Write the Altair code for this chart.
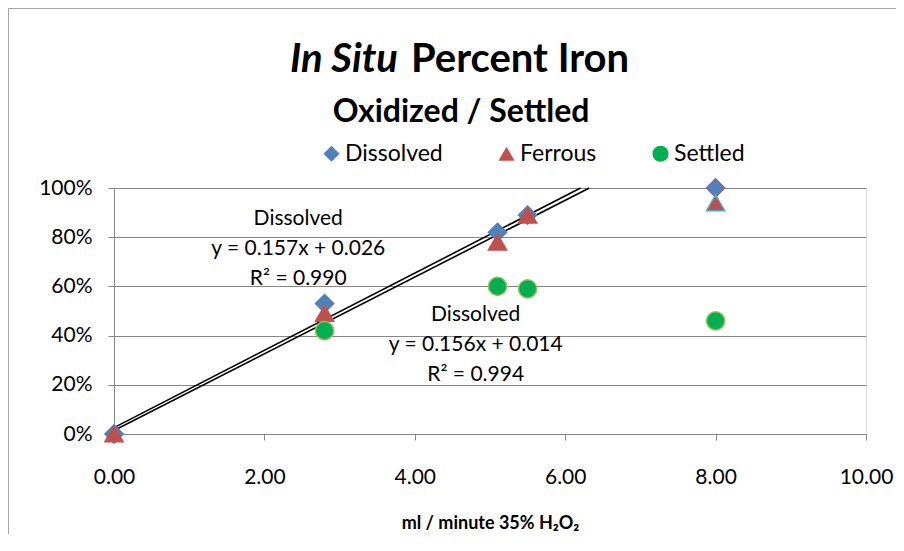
import altair as alt
import pandas as pd

# ---- data ----
flow = [0.0, 2.8, 5.1, 5.5, 8.0]
dissolved = [0.00, 0.53, 0.82, 0.89, 1.00]
ferrous_x = [0.0, 2.8, 5.1, 5.5, 8.0]
ferrous = [0.00, 0.49, 0.78, 0.89, 0.94]
settled_x = [2.8, 5.1, 5.5, 8.0]
settled = [0.42, 0.60, 0.59, 0.46]

series_names = ["Dissolved", "Ferrous", "Settled"]
fills = ["#4F81BD", "#C0504D", "#00B050"]
shapes = ["diamond", "triangle-up", "circle"]

# trendlines (slope, intercept) as labelled
trend_slopes = [0.157, 0.156]
trend_intercepts = [0.026, 0.014]
trend_labels = [
    ["Dissolved", "y = 0.157x + 0.026", "R² = 0.990"],
    ["Dissolved", "y = 0.156x + 0.014", "R² = 0.994"],
]
label_anchor_x = [2.45, 4.81]
label_anchor_y = [0.874, 0.484]

FONT = "Lato"

rows = []
for x, y in zip(flow, dissolved):
    rows.append({"x": x, "y": y, "series": "Dissolved", "edge": "#4F81BD"})
for x, y in zip(ferrous_x, ferrous):
    rows.append({"x": x, "y": y, "series": "Ferrous", "edge": "#C0504D"})
for x, y in zip(settled_x, settled):
    rows.append({"x": x, "y": y, "series": "Settled", "edge": "#9BBB59"})
pts = pd.DataFrame(rows)
pts.loc[(pts.series == "Dissolved") & (pts.x == 8.0), "edge"] = "#8064A2"
pts.loc[(pts.series == "Ferrous") & (pts.x == 8.0), "edge"] = "#4BACC6"
pts["order"] = range(len(pts))

line_rows = []
for i, (m, b) in enumerate(zip(trend_slopes, trend_intercepts)):
    x_end = (1.0 - b) / m
    line_rows.append({"x": 0.0, "y": b, "line": i})
    line_rows.append({"x": x_end, "y": 1.0, "line": i})
lines_df = pd.DataFrame(line_rows)

lab_rows = []
for i, lines in enumerate(trend_labels):
    lab_rows.append({"x": label_anchor_x[i], "y": label_anchor_y[i], "t": lines})
lab_df = pd.DataFrame(lab_rows)

xs = alt.Scale(domain=[0, 10], nice=False)
ys = alt.Scale(domain=[0, 1], nice=False)

x_axis = alt.Axis(
    values=[0, 2, 4, 6, 8, 10], format=".2f", grid=False, labelFlush=False,
    title="ml / minute 35% H₂O₂", titleFont=FONT, titleFontSize=18, titleFontWeight="bold",
    titleColor="black", titlePadding=27,
    labelFont=FONT, labelFontSize=21, labelColor="black", labelPadding=26,
    tickSize=6, tickColor="#868686", domainColor="#868686",
)
y_axis = alt.Axis(
    values=[0, 0.2, 0.4, 0.6, 0.8, 1.0], format=".0%", grid=True, gridColor="#868686",
    title=None, labelFont=FONT, labelFontSize=21, labelColor="black", labelPadding=16,
    tickSize=6, tickColor="#868686", domainColor="#868686",
)

leg = alt.Legend(title=None, orient="none", legendX=206, legendY=-46, padding=0,
                 direction="horizontal", labelFont=FONT, labelFontSize=23,
                 labelColor="black", symbolSize=260, columnPadding=52,
                 symbolStrokeWidth=0, labelOffset=2)

border = alt.Chart(pd.DataFrame({"a": [0]})).mark_rect(
    fillOpacity=0, stroke="#a6a6a6", strokeWidth=1
).encode(x=alt.value(-105.5), x2=alt.value(800), y=alt.value(-179.5), y2=alt.value(420))

points = alt.Chart(pts).mark_point(filled=True, size=330, opacity=1, strokeWidth=1.5).encode(
    x=alt.X("x:Q", scale=xs, axis=x_axis),
    y=alt.Y("y:Q", scale=ys, axis=y_axis),
    fill=alt.Fill("series:N", scale=alt.Scale(domain=series_names, range=fills), legend=leg),
    shape=alt.Shape("series:N", scale=alt.Scale(domain=series_names, range=shapes), legend=leg),
    stroke=alt.Stroke("edge:N", scale=None),
    order="order:Q",
)

trend = alt.Chart(lines_df).mark_line(color="black", strokeWidth=1.6).encode(
    x=alt.X("x:Q", scale=xs), y=alt.Y("y:Q", scale=ys), detail="line:N"
)

labels = alt.Chart(lab_df).mark_text(
    font=FONT, fontSize=21, color="black", align="center", baseline="middle", lineHeight=30
).encode(x=alt.X("x:Q", scale=xs), y=alt.Y("y:Q", scale=ys), text="t")

title_a = alt.Chart(pd.DataFrame({"t": ["In Situ"]})).mark_text(
    font=FONT, fontSize=40, fontWeight="bold", fontStyle="italic", align="right",
    baseline="alphabetic"
).encode(x=alt.value(284), y=alt.value(-116), text="t:N")
title_b = alt.Chart(pd.DataFrame({"t": ["Percent Iron"]})).mark_text(
    font=FONT, fontSize=40, fontWeight="bold", align="left", baseline="alphabetic"
).encode(x=alt.value(297), y=alt.value(-116), text="t:N")
subtitle = alt.Chart(pd.DataFrame({"t": ["Oxidized / Settled"]})).mark_text(
    font=FONT, fontSize=32, fontWeight="bold", align="center", baseline="alphabetic"
).encode(x=alt.value(347), y=alt.value(-66), text="t:N")

chart = alt.layer(border, trend, points, labels, title_a, title_b, subtitle).properties(
    width=752, height=246,
    autosize=alt.AutoSizeParams(type="none"),
    padding={"left": 106, "top": 180, "right": 30, "bottom": 100},
).configure_view(stroke=None).configure(background="white")

chart.save("out.html", embed_options={"renderer": "svg", "actions": False})
